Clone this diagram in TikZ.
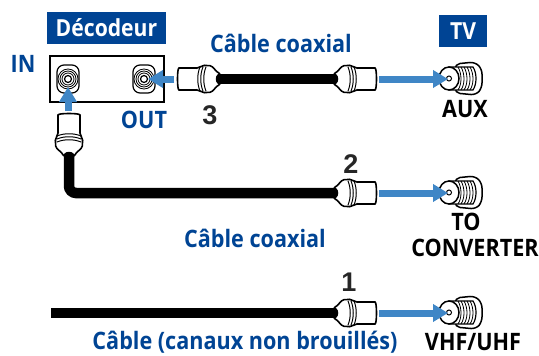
\documentclass[tikz,border=0pt]{standalone}
\usepackage{fontspec}
\setmainfont{Open Sans}[BoldFont={Open Sans Bold},FakeStretch=0.9]
\newfontfamily\numfont{Liberation Sans}
\usepackage{tikz}
\usetikzlibrary{arrows.meta}
\definecolor{bandblue}{HTML}{004494}
\definecolor{arrowblue}{HTML}{3F86C6}
\tikzset{
  lbl/.style={font=\bfseries\fontsize{24}{26}\selectfont,text=bandblue,inner sep=0pt},
  port/.style={font=\bfseries\fontsize{24}{26}\selectfont,text=black,inner sep=0pt,align=center},
  band/.style={fill=bandblue,text=white,font=\bfseries\fontsize{23.5}{26}\selectfont,inner sep=0pt},
  num/.style={font=\numfont\bfseries\fontsize{27}{29}\selectfont,text=black!85,inner sep=0pt},
  cable/.style={draw=black,line width=10.5pt},
  flow/.style={draw=arrowblue,line width=7pt,-{Triangle[length=15pt,width=17pt]}},
  plug/.pic={
    \draw[fill=white,line width=1.6pt,rounded corners=2pt] (-2,-5) .. controls (3,-7) and (6,-13) .. (11,-13.5) -- (17,-13.5) -- (20,-11) -- (38,-11)
      .. controls (42,-11) and (42,11) .. (38,11) -- (20,11) -- (17,13.5) -- (11,13.5) .. controls (6,13) and (3,7) .. (-2,5) -- cycle;
    \fill[black] (-2,-5) -- (1,-5) .. controls (4,-3) and (4,3) .. (1,5) -- (-2,5) -- cycle;
    \foreach \xp in {13,16,19} \draw[line width=1pt] (\xp,-12) .. controls (\xp+3,-5) and (\xp+3,5) .. (\xp,12);
  },
  socket/.pic={
    \draw[fill=white,line width=1.2pt,rounded corners=7pt] (-11,-14) rectangle (11,14);
    \foreach \rr in {10,8,6} \draw[line width=.8pt] (0,0) circle[radius=\rr];
    \draw[fill=white,line width=1.2pt] (0,0) circle[radius=3.5];
  },
  jack/.pic={
    \draw[fill=white,line width=1.5pt,rounded corners=5pt] (6,-15) -- (26,-17) -- (33,-10) -- (33,9) -- (27,16) -- (6,14) -- cycle;
    \draw[fill=white,line width=1.2pt] (0,-12) -- (24,-12) .. controls (28,-6) and (28,5) .. (24,11) -- (0,11) -- cycle;
    \foreach \xp in {9,12,15,18,21} \draw[line width=.8pt] (\xp,-12) .. controls (\xp+4,-5) and (\xp+4,5) .. (\xp,11);
    \draw[fill=white,line width=1.5pt] (0,-.5) ellipse[x radius=10,y radius=11.5];
    \draw[line width=1pt] (0,-.5) circle[radius=2.5];
  }
}
\begin{document}
\begin{tikzpicture}[x=1pt,y=-1pt]
      \useasboundingbox (0,0) rectangle (539,356);
      \node [band,minimum width=119pt,minimum height=32pt] (decoder) at (106.5,28) {Décodeur};
      \node [band,minimum width=48pt,minimum height=32pt] (tv) at (463,31) {TV};
      \node [draw,line width=1.5pt,minimum width=114pt,minimum height=46pt] (box) at (107,79) {};
      \node [lbl] (in) at (23,64) {IN};
      \node [lbl] (out) at (144,120) {OUT};
      \node [lbl] (coax1) at (281,43) {Câble coaxial};
      \node [lbl] (coax2) at (255,238) {Câble coaxial};
      \node [lbl] (plain) at (245,342) {Câble (canaux non brouillés)};
      \node [port] (aux) at (465,109) {AUX};
      \node [port] (conv) at (475,235) {\hspace*{-18pt}TO\\CONVERTER};
      \node [port] (vhf) at (473,342) {VHF/UHF};
      \node [num] (n3) at (210,115) {3};
      \node [num] (n2) at (351,164) {2};
      \node [num] (n1) at (349,282) {1};
      % cables
      \coordinate (c3a) at (219,79);
      \coordinate (c3b) at (335,79);
      \coordinate (c2a) at (69,155);
      \coordinate (c2b) at (335,193);
      \coordinate (c1a) at (51,313);
      \coordinate (c1b) at (335,313);
      \draw [cable] (c3a) -- (c3b);
      \draw [cable,rounded corners=7pt] (c2a) |- (c2b);
      \draw [cable] (c1a) -- (c1b);
      % plugs and sockets
      \pic at (c3a) [rotate=180] {plug};
      \pic at (c3b) {plug};
      \pic at (c2a) [rotate=90] {plug};
      \pic at (c2b) {plug};
      \pic at (c1b) {plug};
      \pic at (68,79) {socket};
      \pic at (144,79) {socket};
      \pic at (449,79) {jack};
      \pic at (449,193) {jack};
      \pic at (449,313) {jack};
      % arrows
      \coordinate (a3s) at (174,79);
      \coordinate (a3t) at (148,79);
      \coordinate (a0s) at (68,111);
      \coordinate (a0t) at (68,87);
      \draw [flow] (a3s) -- (a3t);
      \draw [flow] (a0s) -- (a0t);
      \foreach \yy/\nm in {79/aux,193/conv,313/vhf} {
        \coordinate (s\nm) at (379,\yy);
        \coordinate (t\nm) at (448,\yy);
        \draw [flow] (s\nm) -- (t\nm);
      }
\end{tikzpicture}
\end{document}
